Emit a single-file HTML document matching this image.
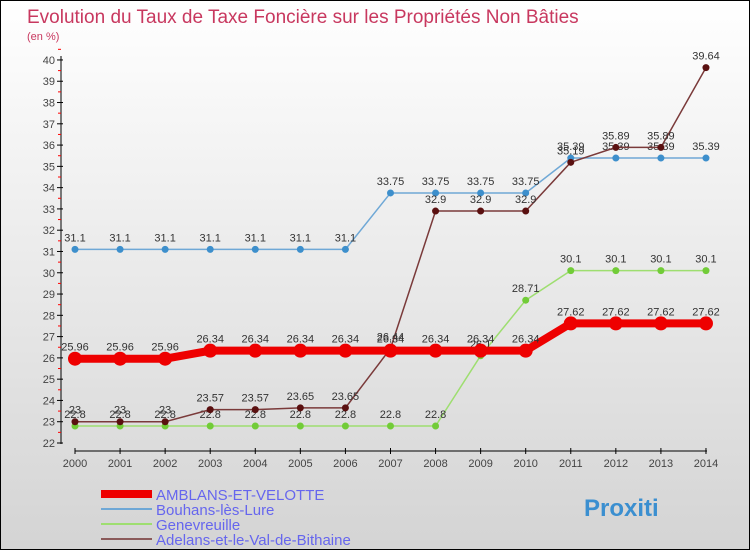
<!DOCTYPE html>
<html><head><meta charset="utf-8"><style>
body{margin:0}
#c{width:748px;height:548px;border:1px solid #000;background:linear-gradient(#fff,#d4d4d4);position:relative;font-family:"Liberation Sans",sans-serif;overflow:hidden}
</style></head><body>
<div id="c">
<svg width="748" height="548" id="svg" style="position:absolute;left:0;top:0">
<text x="26" y="22" font-size="19" fill="#c8385f">Evolution du Taux de Taxe Foncière sur les Propriétés Non Bâties</text>
<text x="26" y="39" font-size="11" fill="#c8385f">(en %)</text>
</svg>
</div>
<script>
const years=[2000,2001,2002,2003,2004,2005,2006,2007,2008,2009,2010,2011,2012,2013,2014];
const yTicks=[22,23,24,25,26,27,28,29,30,31,32,33,34,35,36,37,38,39,40];
const amblans=[25.96,25.96,25.96,26.34,26.34,26.34,26.34,26.34,26.34,26.34,26.34,27.62,27.62,27.62,27.62];
const bouhans=[31.1,31.1,31.1,31.1,31.1,31.1,31.1,33.75,33.75,33.75,33.75,35.39,35.39,35.39,35.39];
const genev=[22.8,22.8,22.8,22.8,22.8,22.8,22.8,22.8,22.8,26.1,28.71,30.1,30.1,30.1,30.1];
const adelans=[23,23,23,23.57,23.57,23.65,23.65,26.44,32.9,32.9,32.9,35.19,35.89,35.89,39.64];
const svg=document.getElementById('svg');const NS='http://www.w3.org/2000/svg';
const X=i=>74+i*45.07, Y=v=>442-(v-22)*21.28;
function mk(t,a,p){const e=document.createElementNS(NS,t);for(const k in a)e.setAttribute(k,a[k]);(p||svg).appendChild(e);return e;}
let ax=mk('line',{x1:60,y1:55,x2:60,y2:443,stroke:'#000'});


let xa=mk('line',{x1:74,y1:450,x2:706,y2:450,stroke:'#000'});


yTicks.forEach(v=>{mk('line',{x1:56,x2:62,y1:Y(v),y2:Y(v),stroke:'#000'});
 mk('line',{x1:57,x2:60,y1:Y(v+0.5),y2:Y(v+0.5),stroke:'#f00'});
 const t=mk('text',{x:54,y:Y(v)+4,'text-anchor':'end','font-size':11,fill:'#444'});t.textContent=v;
 
 });
years.forEach((y,i)=>{mk('line',{x1:X(i),x2:X(i),y1:447,y2:453,stroke:'#000'});
 const t=mk('text',{x:X(i),y:466,'text-anchor':'middle','font-size':11,fill:'#444'});t.textContent=y;
 
 });
function series(d,col,w,r,fill,name){
 const g=mk('g',{});
 
 
 mk('polyline',{points:d.map((v,i)=>X(i)+','+Y(v)).join(' '),fill:'none',stroke:col,'stroke-width':w},g);
 d.forEach((v,i)=>{mk('circle',{cx:X(i),cy:Y(v),r:r,fill:fill},g);
  const t=mk('text',{x:X(i),y:Y(v)-8,'text-anchor':'middle','font-size':11,fill:'#333'},g);t.textContent=v;});
}
series(bouhans,'#6fa8d6',1.5,3.5,'#3d8fcc','series-bouhans');
series(genev,'#9ede70',1.5,3.5,'#72cc38','series-genevreuille');
series(adelans,'#7a3a3a',1.5,3.5,'#5a1010','series-adelans');
series(amblans,'#ee0000',8,7,'#ee0000','series-amblans');
const leg=[['AMBLANS-ET-VELOTTE','#ee0000',8],['Bouhans-lès-Lure','#6fa8d6',2],['Genevreuille','#9ede70',2],['Adelans-et-le-Val-de-Bithaine','#8a5a5a',2]];
leg.forEach((l,i)=>{const y=493+i*15;
 const g=mk('g',{});
 
 
 mk('line',{x1:100,x2:151,y1:y,y2:y,stroke:l[1],'stroke-width':l[2]},g);
 const t=mk('text',{x:155,y:y+6,'font-size':15,fill:'#6666ee'},g);t.textContent=l[0];});
const lg=mk('text',{x:583,y:515,'font-size':24,'font-weight':'bold',fill:'#3b8fd0'});lg.textContent='Proxiti';


</script>
</body></html>
